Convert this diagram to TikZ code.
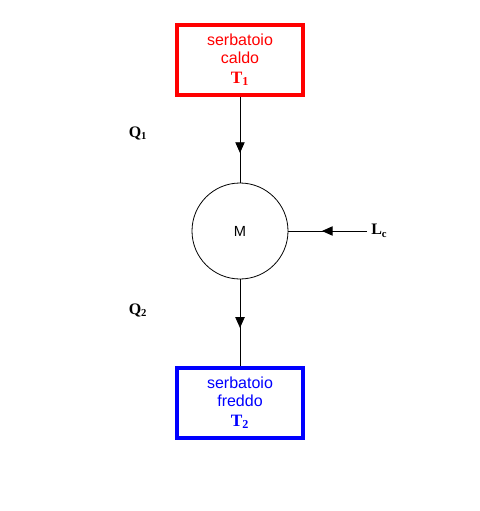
\documentclass[tikz,border=0pt]{standalone}
\usepackage{fontspec}
\setmainfont{Liberation Serif}
\newfontfamily\arialf{Liberation Sans}
\usetikzlibrary{arrows.meta,decorations.markings}
\begin{document}
\begin{tikzpicture}[x=0.75pt,y=-0.75pt,
  reservoir/.style={draw, line width=2.4pt, minimum width=126*0.75pt, minimum height=70*0.75pt, inner sep=0pt, align=center, font=\arialf\fontsize{12}{13.5}\selectfont},
  flow/.style={line width=0.6pt, postaction={decorate}},
  qlabel/.style={font=\bfseries\fontsize{12}{12}\selectfont}
]
\useasboundingbox (0,0) rectangle (479,511);
\node[reservoir, draw=red, text=red] (hot) at (240,60) {serbatoio\\caldo\\[1pt]{\rmfamily\bfseries\fontsize{13}{13}\selectfont T$_{\mathbf{1}}$}};
\node[reservoir, draw=blue, text=blue] (cold) at (240,403) {serbatoio\\freddo\\[1pt]{\rmfamily\bfseries\fontsize{13}{13}\selectfont T$_{\mathbf{2}}$}};
\node[draw, circle, line width=0.6pt, minimum size=96*0.75pt, inner sep=0pt, font=\arialf\fontsize{11}{12}\selectfont] (M) at (240,231) {M};
\coordinate (Lend) at (367,231);
\draw[flow, decoration={markings, mark=at position 0.655 with {\arrow{Triangle[length=8pt,width=7pt]}}}] (hot.south) -- (M.north);
\draw[flow, decoration={markings, mark=at position 0.557 with {\arrow{Triangle[length=8pt,width=7pt]}}}] (M.south) -- (cold.north);
\draw[flow, decoration={markings, mark=at position 0.573 with {\arrow{Triangle[length=8pt,width=7pt]}}}] (Lend) -- (M.east);
\node[qlabel] (q1) at (138,133) {Q$_{\mathbf{1}}$};
\node[qlabel] (q2) at (138,310) {Q$_{\mathbf{2}}$};
\node[qlabel, anchor=west, inner sep=0pt] (lc) at (371,231) {L$_{\mathbf{c}}$};
\end{tikzpicture}
\end{document}
